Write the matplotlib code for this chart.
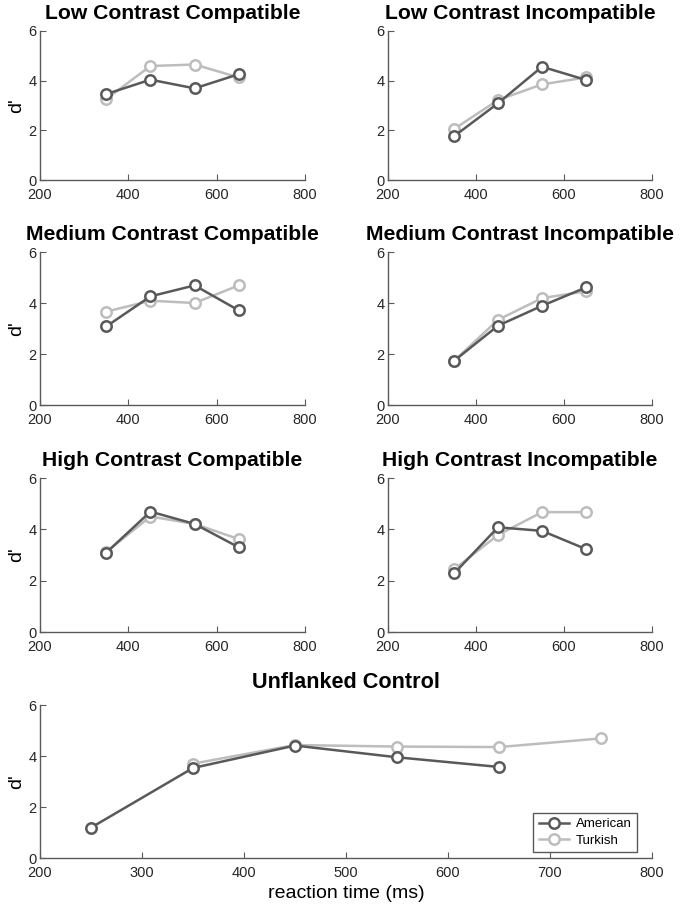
import numpy as np
import matplotlib
matplotlib.use("Agg")
import matplotlib.pyplot as plt

plt.rcParams['font.family'] = ['Liberation Sans', 'DejaVu Sans']

rt = [350, 450, 550, 650]
titles = ["Low Contrast Compatible", "Low Contrast Incompatible",
          "Medium Contrast Compatible", "Medium Contrast Incompatible",
          "High Contrast Compatible", "High Contrast Incompatible"]
american = [[3.46, 4.04, 3.69, 4.26],
            [1.76, 3.09, 4.56, 4.03],
            [3.08, 4.26, 4.69, 3.71],
            [1.73, 3.11, 3.89, 4.61],
            [3.09, 4.69, 4.21, 3.30],
            [2.28, 4.08, 3.94, 3.23]]
turkish = [[3.26, 4.59, 4.65, 4.13],
           [2.05, 3.22, 3.85, 4.13],
           [3.66, 4.09, 4.00, 4.69],
           [1.73, 3.34, 4.19, 4.46],
           [3.12, 4.50, 4.21, 3.62],
           [2.44, 3.78, 4.67, 4.67]]

unflanked_rt_am = [250, 350, 450, 550, 650]
unflanked_am = [1.19, 3.53, 4.41, 3.95, 3.57]
unflanked_rt_tk = [350, 450, 550, 650, 750]
unflanked_tk = [3.70, 4.43, 4.37, 4.35, 4.69]

dark = '#595959'
light = '#bdbdbd'
axcol = '#5a5a5a'

W, H = 685, 905
fig = plt.figure(figsize=(W / 100, H / 100), dpi=100)


def make_ax(x0, x1, y0, y1):
    return fig.add_axes([x0 / W, 1 - y1 / H, (x1 - x0) / W, (y1 - y0) / H])


def style(ax, xticks):
    ax.set_xlim(xticks[0], xticks[-1])
    ax.set_ylim(0, 6)
    ax.set_xticks(xticks)
    ax.set_yticks([0, 2, 4, 6])
    for s in ['top', 'right']:
        ax.spines[s].set_visible(False)
    for s in ['left', 'bottom']:
        ax.spines[s].set_color(axcol)
        ax.spines[s].set_linewidth(1.0)
    ax.tick_params(direction='in', length=4, color=axcol, labelcolor='#262626',
                   labelsize=10.5)
    ax.tick_params(axis='x', pad=5.5)
    ax.tick_params(axis='y', pad=2.5)


def draw(ax, xa, ya, xt, yt):
    ax.plot(xt, yt, '-o', color=light, lw=1.8, ms=7.5, mfc='white', mec=light,
            mew=1.8, label='Turkish', clip_on=False)
    ax.plot(xa, ya, '-o', color=dark, lw=1.8, ms=7.5, mfc='white', mec=dark,
            mew=1.8, label='American', clip_on=False)


rows = [(31, 180), (252, 405), (478, 632)]
cols = [(40, 305), (388, 652)]
for i in range(6):
    r, c = divmod(i, 2)
    ax = make_ax(cols[c][0], cols[c][1], rows[r][0], rows[r][1])
    draw(ax, rt, american[i], rt, turkish[i])
    style(ax, [200, 400, 600, 800])
    ax.set_title(titles[i], fontsize=15.2, fontweight='bold', pad=8.5)
    if c == 0:
        ax.set_ylabel("d'", fontsize=14, labelpad=2)

ax = make_ax(40, 652, 705, 858)
draw(ax, unflanked_rt_am, unflanked_am, unflanked_rt_tk, unflanked_tk)
style(ax, [200, 300, 400, 500, 600, 700, 800])
ax.set_title("Unflanked Control", fontsize=15.6, fontweight='bold', pad=12)
ax.set_ylabel("d'", fontsize=14, labelpad=2)
ax.set_xlabel("reaction time (ms)", fontsize=14, labelpad=4)
handles, labels = ax.get_legend_handles_labels()
leg = ax.legend(handles[::-1], labels[::-1], loc='lower right',
                bbox_to_anchor=(0.975, 0.04), borderaxespad=0, fontsize=9.5,
                fancybox=False, edgecolor=axcol, framealpha=1,
                handlelength=2.3, borderpad=0.4, labelspacing=0.3,
                handletextpad=0.5)
leg.get_frame().set_linewidth(1.0)

fig.savefig("out.png", dpi=100)
